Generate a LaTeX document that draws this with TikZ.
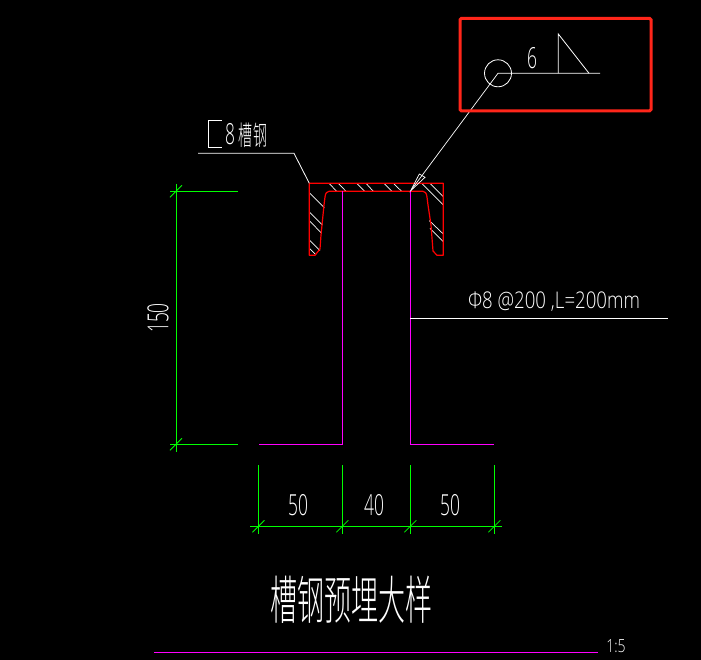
\documentclass[tikz,border=0pt]{standalone}
\usepackage{fontspec}
\setmainfont{Open Sans Light}
\newfontfamily\cjk{Noto Sans CJK SC Light}
\definecolor{cadgreen}{RGB}{0,255,0}
\definecolor{cadmag}{RGB}{255,0,255}
\definecolor{cadred}{RGB}{255,0,0}
\definecolor{markred}{RGB}{255,38,26}
\tikzset{
  wall/.style={cadmag, line width=1pt},
  dimline/.style={cadgreen, line width=1pt},
  note/.style={white, line width=.8pt},
  dimtext/.style={text=white, inner sep=0pt, font=\fontsize{29}{29}\selectfont, xscale=.6},
  cjktext/.style={text=white, inner sep=0pt, font=\cjk\fontsize{#1}{#1}\selectfont, xscale=.52}
}
\begin{document}
\begin{tikzpicture}[x=1pt, y=-1pt]
\useasboundingbox (0,0) rectangle (701,660);
\fill[black] (0,0) rectangle (701,660);

\begin{scope}[shift={(290,160)}, x=.3333pt, y=-.3333pt, note, line width=.7pt]
\foreach \a/\b/\c/\d in {117/70/140/94, 145/70/168/94, 200/70/224/94, 228/70/250/94, 282/70/306/94, 310/70/335/94,
  58/98/103/143, 58/156/97/195, 58/182/95/220, 58/240/90/272, 58/265/78/285,
  395/70/460/135, 420/70/460/110, 418/182/460/222, 420/205/460/245}
  \draw (\a,\b) -- (\c,\d);
\end{scope}

\coordinate (chanTL) at (309.3,183.3);
\coordinate (weldTip) at (410.7,190.7);
\coordinate (weldO) at (498,73.3);
\coordinate (weldEnd) at (600,73.3);
\coordinate (triA) at (558.3,73.3);
\coordinate (triB) at (558.3,34);
\coordinate (triC) at (589,73.3);

\draw[cadred, line width=1.2pt, line join=round] (chanTL) -- (443.3,183.3) -- (443.3,255.3) -- (437,255.3)
  -- (433,251) -- (431,225) -- (428,205) -- (427,197) .. controls (426.5,193) and (425,191.3) .. (423,191.3)
  -- (329,191.3) .. controls (327,191.3) and (325.5,193) .. (325,197) -- (324,205) -- (321,235) -- (320,249)
  -- (316,254) -- (315,255.3) -- (309.3,255.3) -- cycle;

\draw[wall] (342.3,191.3) -- (342.3,444.3) -- (259,444.3);
\draw[wall] (410.3,191.3) -- (410.3,444.3) -- (494,444.3);
\draw[wall] (154,652.3) -- (598,652.3);

\draw[dimline] (176,184) -- (176,452);
\draw[dimline] (170,191.3) -- (238,191.3);
\draw[dimline] (170,444.3) -- (238,444.3);
\draw[dimline] (250,526.3) -- (501.7,526.3);
\foreach \x in {258.5,342.3,410.3,494.3} {
  \draw[dimline] (\x,465) -- (\x,534);
  \draw[dimline, line width=.8pt] (\x-6,532.3) -- (\x+6,520.3);
}
\foreach \y in {191.3,444.3}
  \draw[dimline, line width=.8pt] (170,\y+6) -- (182,\y-6);

\draw[note] (198,153.3) -- (294,153.3) -- (chanTL);
\draw[note, line width=.7pt] (weldTip) -- (weldO) -- (weldEnd);
\draw[note, line width=.7pt] (weldTip) -- (419.3,174) -- (425,177.3) -- cycle;
\draw[note] (weldO) circle (13.5);
\draw[note] (triA) -- (triB) -- (triC);
\draw[note] (221.7,120) -- (208.3,120) -- (208.3,147.3) -- (221.7,147.3);
\draw[note] (410.3,318.3) -- (668,318.3);

\draw[markred, line width=3pt, rounded corners=1.5pt] (460,18.3) rectangle (651,111);

\node[dimtext] (weldSize) at (532,58) {6};
\node[dimtext] (chanNum) at (230,134) {8};
\node[cjktext=27] (chanName) at (253,135) {槽钢};
\node[dimtext, font=\fontsize{23}{23}\selectfont, xscale=1.35] (barNote) at (554,301.5) {Φ8 @200 ,L=200mm};
\node[rotate=90, dimtext] (dimH) at (158,318) {150};
\node[dimtext] (dimA) at (298,505) {50};
\node[dimtext] (dimB) at (374,505) {40};
\node[dimtext] (dimC) at (450,505) {50};
\node[cjktext=52] (title) at (351.7,600) {槽钢预埋大样};
\node[dimtext, font=\fontsize{18}{18}\selectfont, xscale=1.3] (scaleLbl) at (616,646) {1:5};
\end{tikzpicture}
\end{document}
